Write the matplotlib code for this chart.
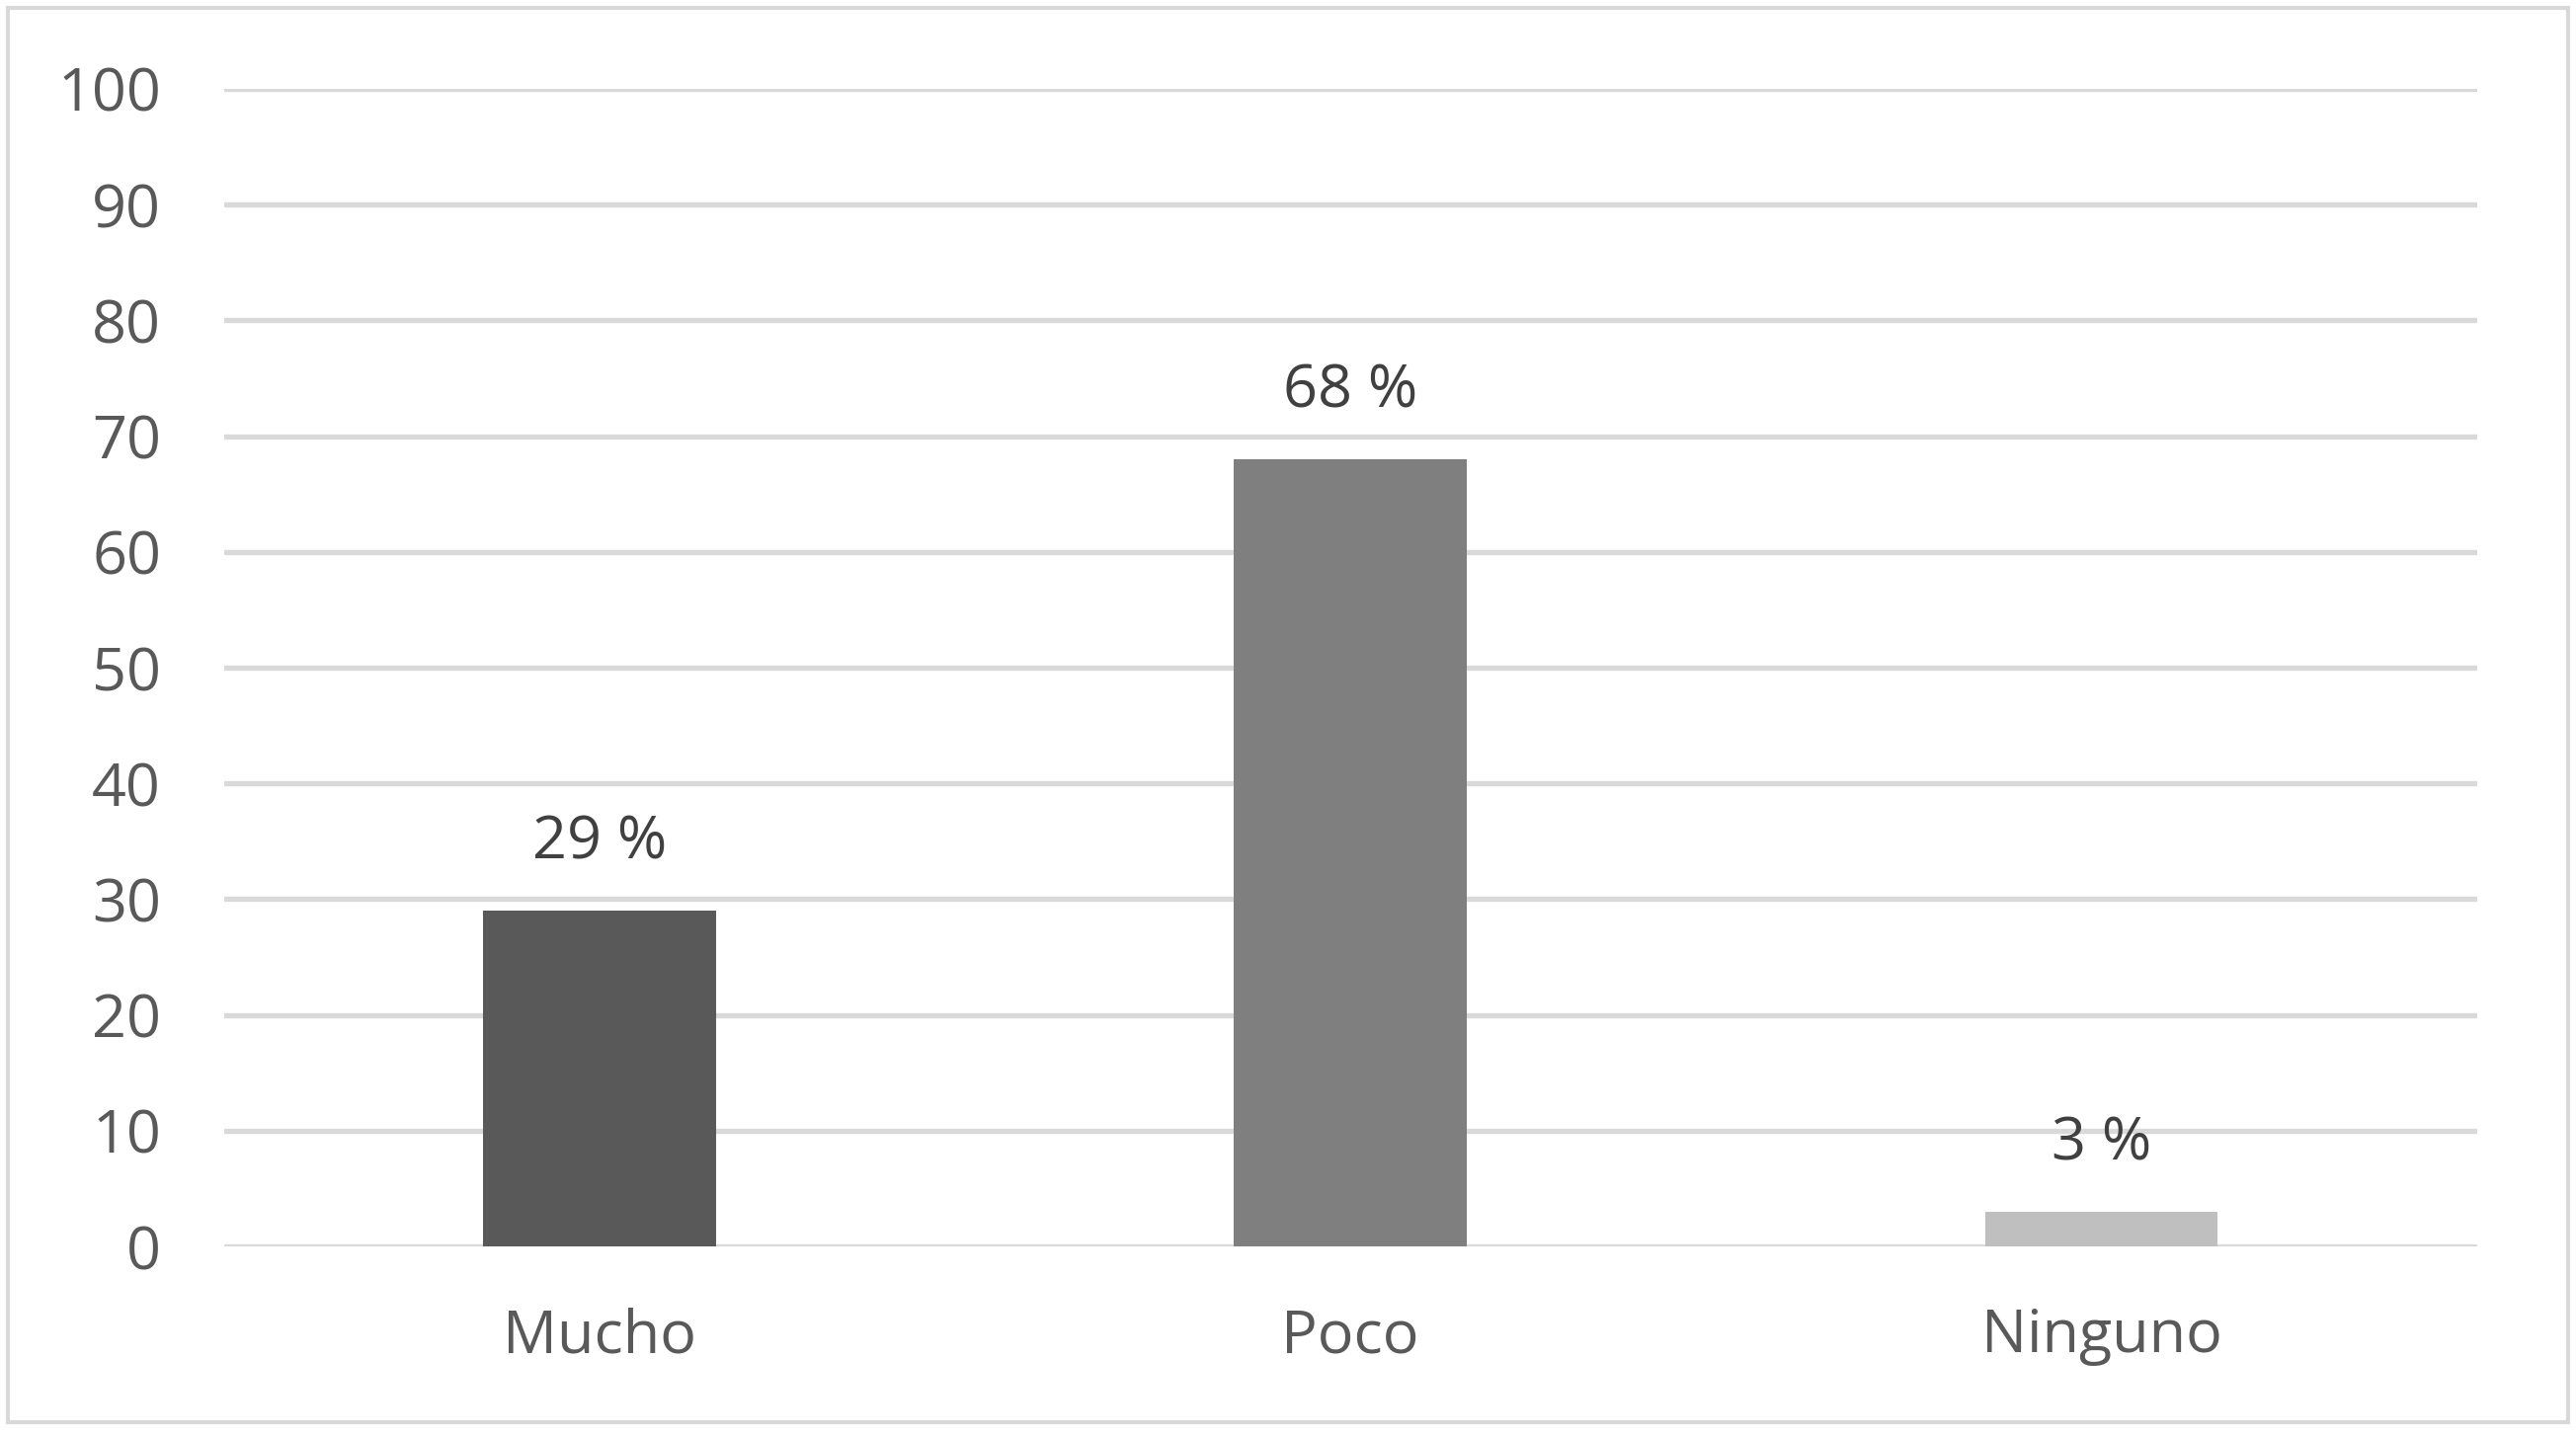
import matplotlib
matplotlib.use("Agg")
import matplotlib.pyplot as plt
from matplotlib.patches import Rectangle

# ===== DATA =====
categories = ["Mucho", "Poco", "Ninguno"]
percentages = [29, 68, 3]
bar_colors = ["#595959", "#7f7f7f", "#bfbfbf"]
y_ticks = [0, 10, 20, 30, 40, 50, 60, 70, 80, 90, 100]

plt.rcParams["font.family"] = ["Open Sans", "DejaVu Sans"]

fig = plt.figure(figsize=(26.08, 14.56), dpi=100)
ax = fig.add_axes([0.0870, 0.1332, 0.9615 - 0.0870, 0.9382 - 0.1332])

x = range(len(categories))
ax.bar(x, percentages, width=0.31, color=bar_colors, edgecolor="none", zorder=3)

# data labels above the bars
for xi, val in zip(x, percentages):
    ax.annotate(
        f"{val} %",
        xy=(xi, val),
        xytext=(0, 38),
        textcoords="offset points",
        ha="center",
        va="baseline",
        fontsize=44,
        color="#404040",
    )

ax.set_xlim(-0.5, len(categories) - 0.5)
ax.set_ylim(0, 100)
ax.set_yticks(y_ticks)
ax.set_xticks(list(x))
ax.set_xticklabels(categories)

ax.grid(axis="y", color="#d9d9d9", linewidth=3.8, zorder=0)
ax.set_axisbelow(True)
for side in ["top", "right", "left", "bottom"]:
    ax.spines[side].set_visible(False)

ax.tick_params(axis="both", length=0, labelsize=44, labelcolor="#595959")
ax.tick_params(axis="y", pad=46)
ax.tick_params(axis="x", pad=44)

# light frame around the whole chart
frame = Rectangle(
    (8 / 2608, 16 / 1456), (2600 - 8) / 2608, (1448 - 16) / 1456,
    transform=fig.transFigure, fill=False, edgecolor="#d9d9d9", linewidth=3
)
fig.patches.append(frame)

fig.savefig("out.png", dpi=100, facecolor="white")
